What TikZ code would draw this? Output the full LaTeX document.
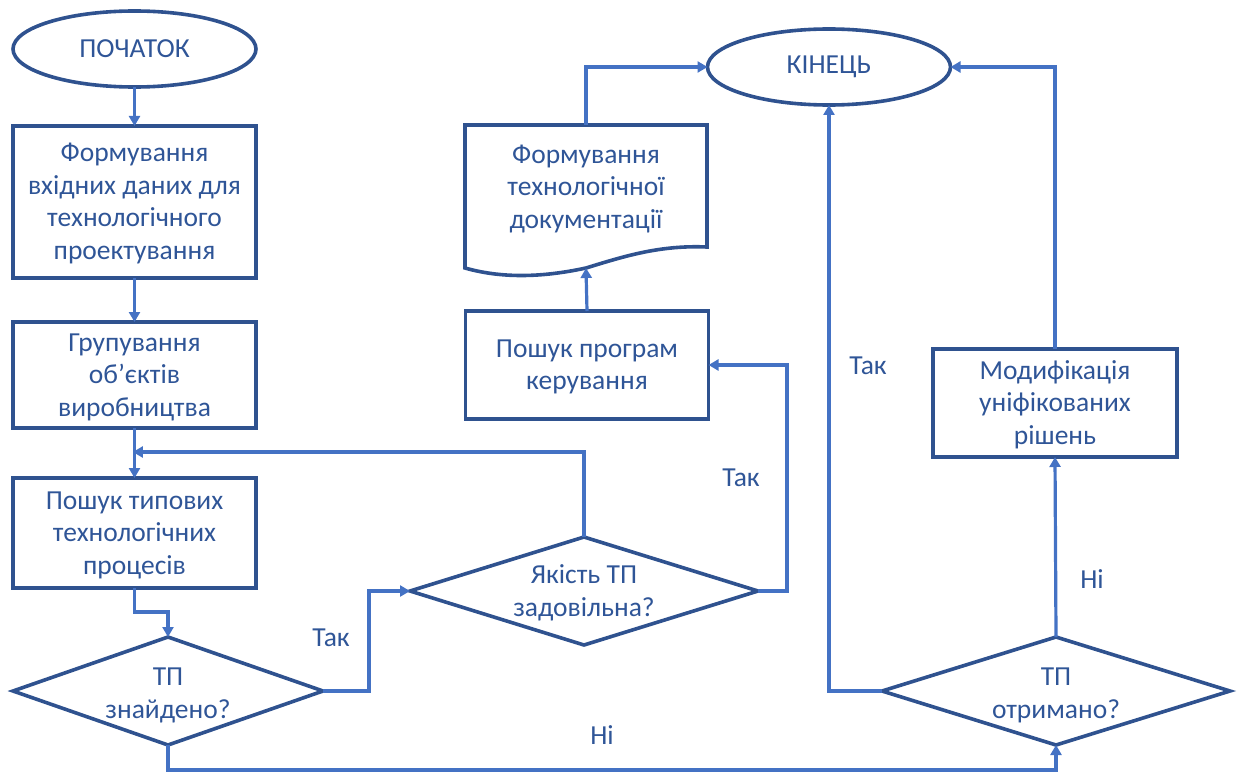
\documentclass[tikz,border=0pt]{standalone}
\usepackage{fontspec}
\setmainfont{Carlito}
\usetikzlibrary{shapes.geometric,arrows.meta,calc}
\definecolor{txtblue}{RGB}{47,85,151}
\definecolor{shpblue}{RGB}{47,82,143}
\definecolor{lnblue}{RGB}{68,114,196}
\newcommand{\lowtx}[2]{\raisebox{-#1}[\height][\depth]{\begin{tabular}{@{}c@{}}#2\end{tabular}}}
\newcommand{\lowzero}[2]{\raisebox{-#1}[0pt][0pt]{\begin{tabular}{@{}c@{}}#2\end{tabular}}}
\begin{document}
\begin{tikzpicture}[x=1pt,y=-1pt,
  every node/.style={font=\fontsize{27.5}{32.5}\selectfont, text=txtblue, align=center, inner sep=0pt, outer sep=0pt},
  term/.style={ellipse, draw=shpblue, line width=3.6pt, minimum width=243pt, minimum height=76pt},
  proc/.style={rectangle, draw=shpblue, line width=3.6pt, minimum width=243pt},
  dec/.style={diamond, draw=shpblue, line width=3.6pt, aspect=3.2},
  conn/.style={draw=lnblue, line width=3.2pt, -{Triangle[length=10pt,width=11pt]}}]
\useasboundingbox (0,0) rectangle (1238,773);

% nodes
\node[term] (start) at (134.5,49) {ПОЧАТОК};
\node[proc, minimum height=152pt] (b1) at (134.5,202) {\lowtx{2pt}{Формування\\вхідних даних для\\технологічного\\проектування}};
\node[proc, minimum height=106pt] (b2) at (134.5,375) {\lowtx{2pt}{Групування\\об’єктів\\виробництва}};
\node[proc, minimum height=110pt] (b3) at (134.5,533) {\lowtx{2pt}{Пошук типових\\технологічних\\процесів}};
\node[dec, aspect=2.9, minimum width=310pt, minimum height=108pt] (d1) at (168,691) {\lowzero{10.9pt}{ТП\\знайдено?}};
\node[dec, minimum width=348pt, minimum height=108pt] (d2) at (584,591) {\lowzero{8.9pt}{Якість ТП\\задовільна?}};
\node[proc, minimum height=108pt] (b4) at (587,365) {\lowtx{2pt}{Пошук програм\\керування}};
\node[minimum width=242pt, minimum height=126pt] (doc) at (586,188) {\lowtx{1pt}{Формування\\технологічної\\документації}};
\draw[shpblue, line width=3.6pt] (465,125) -- (707,125) -- (707,247)
   .. controls (660,245) and (625,256) .. (586,268)
   .. controls (540,278) and (500,278) .. (465,268) -- cycle;
\coordinate (docw) at (586,268);
\node[term] (end) at (829,67) {КІНЕЦЬ};
\node[dec, minimum width=348pt, minimum height=108pt] (d3) at (1056,691) {\lowzero{10.9pt}{ТП\\отримано?}};
\node[proc, minimum width=244pt, minimum height=108pt] (b5) at (1055,403) {\lowtx{2pt}{Модифікація\\уніфікованих\\рішень}};

% labels
\node (l1) at (331,638) {Так};
\node (l2) at (741,478) {Так};
\node (l3) at (868,366) {Так};
\node (l4) at (1092,579) {Ні};
\node (l5) at (602,735) {Ні};

% connectors
\draw[conn] (start.south) -- (b1.north);
\draw[conn] (b1.south) -- (b2.north);
\draw[conn] (b2.south) -- (b3.north);
\draw[conn] (b3.south) -- ++(0,24) -| (d1.north);
\draw[conn] (d1.east) -- ++(46,0) |- (d2.west);
\draw[conn, shorten >=-1.6pt] (d2.north) |- ([yshift=26pt]b3.north);
\draw[conn] (d2.east) -- ++(29,0) |- (b4.east);
\draw[conn] (b4.north) -- (docw);
\draw[conn] (doc.north) |- (end.west);
\draw[conn] (d3.west) -| (end.south);
\draw[conn] (d3.north) -- (b5.south);
\draw[conn] (b5.north) |- (end.east);
\draw[conn] (d1.south) -- ++(0,25) -| (d3.south);
\end{tikzpicture}
\end{document}
